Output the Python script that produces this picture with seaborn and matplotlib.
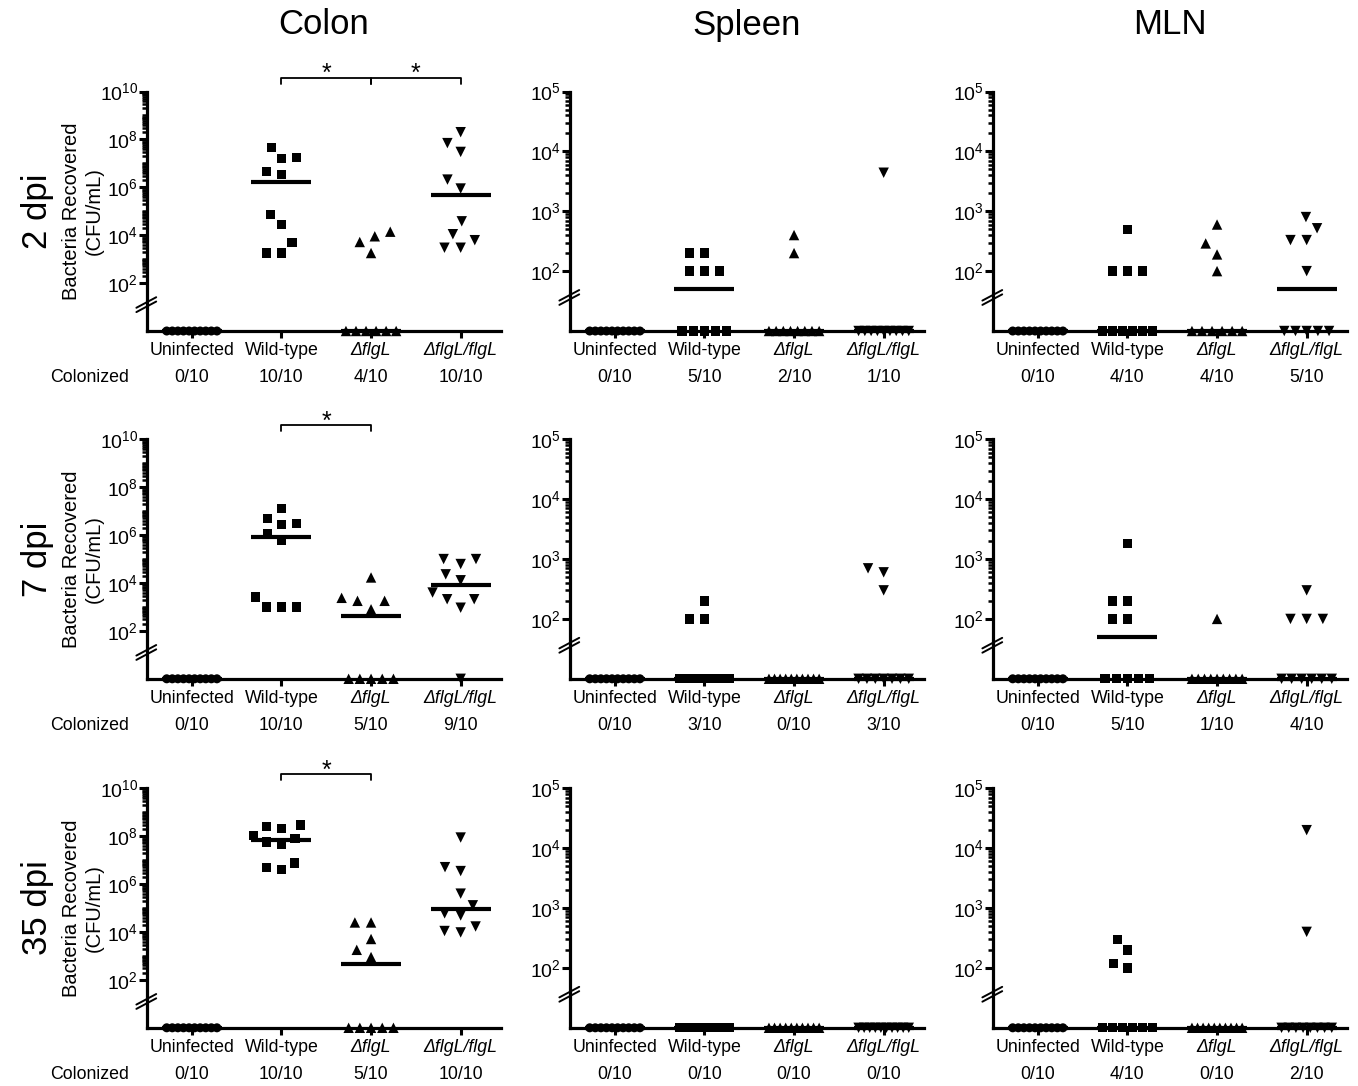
import numpy as np
import seaborn as sns
import matplotlib.pyplot as plt
from matplotlib.ticker import NullFormatter

sns.set_style('ticks')
plt.rcParams['font.family'] = ['Liberation Sans', 'DejaVu Sans']
plt.rcParams['mathtext.fontset'] = 'custom'
plt.rcParams['mathtext.rm'] = 'Liberation Sans'
plt.rcParams['mathtext.it'] = 'Liberation Sans:italic'
plt.rcParams['mathtext.default'] = 'regular'
for key in ['text.color', 'axes.edgecolor', 'axes.labelcolor', 'xtick.color', 'ytick.color']:
    plt.rcParams[key] = 'black'

groups = ['Uninfected', 'Wild-type', 'ΔflgL', 'ΔflgL/flgL']
markers = ['o', 's', '^', 'v']
marker_size = [6.5, 6.7, 7.5, 7.5]
tissues = ['Colon', 'Spleen', 'MLN']
timepoints = ['2 dpi', '7 dpi', '35 dpi']

# CFU/mL recovered per mouse, 10 mice per group (0 = nothing recovered)
# order in each panel: Uninfected, Wild-type, dflgL, dflgL/flgL
colon_2dpi = [
    [0, 0, 0, 0, 0, 0, 0, 0, 0, 0],
    [4.5e7, 1.8e7, 1.6e7, 4.7e6, 3.4e6, 7.4e4, 2.8e4, 4.8e3, 1.8e3, 1.8e3],
    [1.4e4, 9e3, 5.2e3, 1.8e3, 0, 0, 0, 0, 0, 0],
    [2e8, 7e7, 3e7, 2.1e6, 8.9e5, 3.8e4, 1.1e4, 6.2e3, 3e3, 3e3],
]
colon_7dpi = [
    [0, 0, 0, 0, 0, 0, 0, 0, 0, 0],
    [1.3e7, 4.8e6, 3e6, 2.8e6, 1.1e6, 6.3e5, 2.6e3, 1e3, 1e3, 1e3],
    [1.7e4, 2.4e3, 1.8e3, 1.8e3, 800, 0, 0, 0, 0, 0],
    [1e5, 1e5, 6.2e4, 2.3e4, 1.3e4, 4e3, 2.1e3, 2.1e3, 930, 0],
]
colon_35dpi = [
    [0, 0, 0, 0, 0, 0, 0, 0, 0, 0],
    [2.9e8, 2.5e8, 2.1e8, 1.1e8, 8e7, 5.8e7, 4.5e7, 7.6e6, 4.9e6, 4e6],
    [2.5e4, 2.5e4, 5.1e3, 1.8e3, 900, 0, 0, 0, 0, 0],
    [8.8e7, 5.1e6, 3.5e6, 4e5, 1.3e5, 6e4, 4.9e4, 1.7e4, 1.1e4, 9.6e3],
]
spleen_2dpi = [
    [0, 0, 0, 0, 0, 0, 0, 0, 0, 0],
    [200, 200, 100, 100, 100, 0, 0, 0, 0, 0],
    [400, 200, 0, 0, 0, 0, 0, 0, 0, 0],
    [4400, 0, 0, 0, 0, 0, 0, 0, 0, 0],
]
spleen_7dpi = [
    [0, 0, 0, 0, 0, 0, 0, 0, 0, 0],
    [200, 100, 100, 0, 0, 0, 0, 0, 0, 0],
    [0, 0, 0, 0, 0, 0, 0, 0, 0, 0],
    [700, 600, 300, 0, 0, 0, 0, 0, 0, 0],
]
spleen_35dpi = [
    [0, 0, 0, 0, 0, 0, 0, 0, 0, 0],
    [0, 0, 0, 0, 0, 0, 0, 0, 0, 0],
    [0, 0, 0, 0, 0, 0, 0, 0, 0, 0],
    [0, 0, 0, 0, 0, 0, 0, 0, 0, 0],
]
mln_2dpi = [
    [0, 0, 0, 0, 0, 0, 0, 0, 0, 0],
    [500, 100, 100, 100, 0, 0, 0, 0, 0, 0],
    [600, 290, 190, 100, 0, 0, 0, 0, 0, 0],
    [800, 520, 330, 330, 100, 0, 0, 0, 0, 0],
]
mln_7dpi = [
    [0, 0, 0, 0, 0, 0, 0, 0, 0, 0],
    [1800, 200, 200, 100, 100, 0, 0, 0, 0, 0],
    [100, 0, 0, 0, 0, 0, 0, 0, 0, 0],
    [300, 100, 100, 100, 0, 0, 0, 0, 0, 0],
]
mln_35dpi = [
    [0, 0, 0, 0, 0, 0, 0, 0, 0, 0],
    [300, 200, 120, 100, 0, 0, 0, 0, 0, 0],
    [0, 0, 0, 0, 0, 0, 0, 0, 0, 0],
    [20000, 400, 0, 0, 0, 0, 0, 0, 0, 0],
]

panels = {
    ('Colon', '2 dpi'): colon_2dpi, ('Colon', '7 dpi'): colon_7dpi, ('Colon', '35 dpi'): colon_35dpi,
    ('Spleen', '2 dpi'): spleen_2dpi, ('Spleen', '7 dpi'): spleen_7dpi, ('Spleen', '35 dpi'): spleen_35dpi,
    ('MLN', '2 dpi'): mln_2dpi, ('MLN', '7 dpi'): mln_7dpi, ('MLN', '35 dpi'): mln_35dpi,
}

# significant comparisons (group index pairs), colon only
colon_sig = {'2 dpi': [(1, 2), (2, 3)], '7 dpi': [(1, 2)], '35 dpi': [(1, 2)]}


def spread(n, step=0.125, max_width=0.56):
    # side-by-side offsets for tied values sitting on the axis
    if n < 2:
        return np.zeros(n)
    w = min((n - 1) * step, max_width)
    return np.linspace(-w / 2, w / 2, n)


W, H = 1358, 1086
fig = plt.figure(figsize=(W / 100, H / 100), dpi=100)
col_left = [147, 570, 993]
row_top = [91.5, 439.3, 788.3]
ax_w, ax_h = 354, 239.5

for r, tp in enumerate(timepoints):
    for c, tissue in enumerate(tissues):
        ax = fig.add_axes([col_left[c] / W, 1 - (row_top[r] + ax_h) / H, ax_w / W, ax_h / H])
        ax.set_yscale('log')
        if tissue == 'Colon':
            floor, top = 1, 1e10
            major = [10.0 ** k for k in range(2, 11, 2)]
            decades = range(2, 10)
        else:
            floor, top = 10, 1e5
            major = [10.0 ** k for k in range(2, 6)]
            decades = range(2, 5)
        minor = [m * 10.0 ** d for d in decades for m in range(2, 10)]
        minor += [10.0 ** d for d in decades if 10.0 ** d not in major]

        for i, vals in enumerate(panels[(tissue, tp)]):
            vals = np.asarray(vals, dtype=float)
            pos = vals[vals > 0]
            nzero = int((vals == 0).sum())
            med = np.median(vals)
            ax.hlines(max(med, floor), i - 0.335, i + 0.335, color='black', lw=3.0,
                      zorder=3, clip_on=False)
            if len(pos):
                sns.swarmplot(x=np.full(len(pos), i), y=pos, native_scale=True, orient='v',
                              marker=markers[i], size=marker_size[i], color='black',
                              edgecolor='none', linewidth=3.6, ax=ax, clip_on=False, zorder=4)
            if nzero:
                sns.scatterplot(x=i + spread(nzero), y=np.full(nzero, float(floor)),
                                marker=markers[i], s=marker_size[i] ** 2, color='black',
                                edgecolor='none', linewidth=0, ax=ax, clip_on=False, zorder=4)

        ax.set_xlim(-0.5, 3.45)
        ax.set_ylim(floor, top)
        ax.set_xlabel('')
        ax.set_ylabel('')
        sns.despine(ax=ax)
        for side in ['left', 'bottom']:
            ax.spines[side].set_linewidth(2.3)
            ax.spines[side].set_color('black')
        ax.set_yticks(major)
        ax.set_yticks(minor, minor=True)
        ax.yaxis.set_minor_formatter(NullFormatter())
        ax.tick_params(axis='y', which='major', length=5.5, width=2.2, pad=1, labelsize=14)
        ax.tick_params(axis='y', which='minor', length=3.5, width=1.8)
        ax.set_xticks(range(len(groups)))
        ax.set_xticklabels(groups)
        ax.tick_params(axis='x', length=5, width=2.2, pad=3, labelsize=12.8)
        for lab in ax.get_xticklabels()[2:]:
            lab.set_fontstyle('italic')

        # axis break marks
        yb = 0.11 if tissue == 'Colon' else 0.14
        for dy in (-0.009, 0.009):
            ax.plot([-0.03, 0.026], [yb - 0.022 + dy, yb + 0.022 + dy], color='black',
                    lw=1.4, transform=ax.transAxes, clip_on=False, zorder=5)

        # colonized counts
        for i, vals in enumerate(panels[(tissue, tp)]):
            vals = np.asarray(vals)
            ax.text(i, -0.196, f'{np.count_nonzero(vals)}/{len(vals)}', ha='center', va='center',
                    fontsize=12.8, transform=ax.get_xaxis_transform())

        if tissue == 'Colon':
            ax.text(-0.18, 0.5, 'Bacteria Recovered\n(CFU/mL)', rotation=90, ha='center',
                    va='center', fontsize=14.5, linespacing=1.25, transform=ax.transAxes)
            fig.text(90 / W, 1 - (row_top[r] + ax_h + 47) / H, 'Colonized', ha='center',
                     va='center', fontsize=12.8)
            fig.text(37 / W, 1 - (row_top[r] + ax_h / 2) / H, tp, rotation=90, ha='center',
                     va='center', fontsize=25)
            for a, b in colon_sig[tp]:
                ax.plot([a, a, b, b], [10 ** 10.33, 10 ** 10.58, 10 ** 10.58, 10 ** 10.33],
                        color='black', lw=1.3, clip_on=False)
                ax.text((a + b) / 2, 10 ** 10.72, '*', ha='center', va='center', fontsize=18)

        if r == 0:
            fig.text((col_left[c] + ax_w / 2) / W, 1 - 25 / H, tissue, ha='center',
                     va='center', fontsize=25)

fig.savefig('out.png', dpi=100)
